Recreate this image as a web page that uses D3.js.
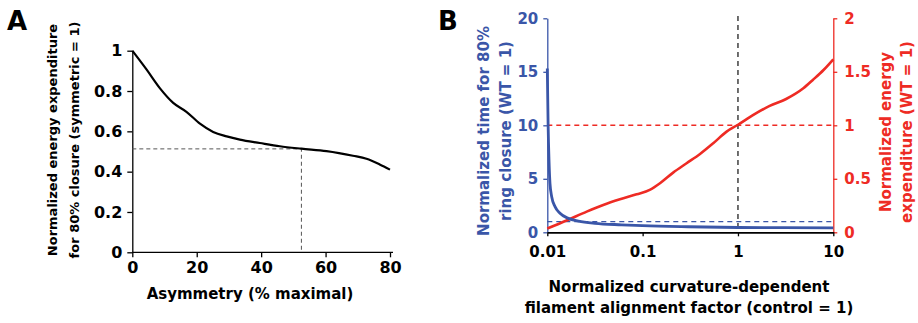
<!DOCTYPE html>
<html>
<head>
<meta charset="utf-8">
<script src="https://cdn.jsdelivr.net/npm/d3@7"></script>
<style>
  body { margin: 0; background: #fff; }
  svg text { font-family: "DejaVu Sans", sans-serif; font-weight: 700; }
</style>
</head>
<body>
<div id="chart"></div>
<script>
// panel A: energy vs asymmetry
const asymX = [0, 4.4, 8.6, 12.7, 16.8, 21, 25.1, 29.3, 33.4, 39.6, 45.8, 52.5, 60.3, 68.5, 72.7, 76.8, 80];
const asymEnergy = [1.0, 0.907, 0.813, 0.741, 0.697, 0.638, 0.597, 0.575, 0.559, 0.542, 0.526, 0.514, 0.502, 0.479, 0.464, 0.436, 0.41];
const asymMark = [52.5, 0.513];
const asymXTicks = [0, 20, 40, 60, 80];
const asymYTicks = [0, 0.2, 0.4, 0.6, 0.8, 1];

// panel B: time and energy vs alignment factor (log x)
const timeX = [0.01, 0.0102, 0.01042, 0.01067, 0.01112, 0.01205, 0.01359, 0.0166, 0.0212, 0.0316, 0.06, 0.1, 0.3, 1, 3, 10];
const timeY = [15.3, 10, 6.75, 4.58, 3.33, 2.4, 1.78, 1.3, 1.05, 0.84, 0.7, 0.62, 0.52, 0.45, 0.43, 0.42];
const energyX = [0.01, 0.0159, 0.0259, 0.0386, 0.0578, 0.0865, 0.1187, 0.152, 0.209, 0.289, 0.40, 0.55, 0.76, 1.0, 1.45, 2.15, 3.2, 4.85, 6.1, 7.9, 10];
const energyY = [0.035, 0.11, 0.193, 0.255, 0.308, 0.355, 0.396, 0.458, 0.558, 0.645, 0.732, 0.832, 0.941, 1.005, 1.097, 1.181, 1.246, 1.346, 1.424, 1.517, 1.617];
const alignTicks = [0.01, 0.1, 1, 10];
const timeTicks = [0, 5, 10, 15, 20];
const energyTicks = [0, 0.5, 1, 1.5, 2];

const blue = "#3a56a8", red = "#ee2b24";

const svg = d3.select("#chart").append("svg")
  .attr("width", 918).attr("height", 323);

function styleAxis(g, color, size) {
  g.select(".domain").attr("stroke", color).attr("stroke-width", 1.3);
  g.selectAll(".tick line").attr("stroke", color).attr("stroke-width", 1.3);
  g.selectAll(".tick text").attr("fill", color).style("font-size", size + "px");
}

// ---------- A ----------
const xA = d3.scaleLinear().domain([0, 80]).range([132.3, 390]);
const yA = d3.scaleLinear().domain([0, 1]).range([252.3, 50.7]);

svg.append("text").attr("x", 7).attr("y", 30).style("font-size", "26px").text("A");

svg.append("g").attr("transform", "translate(0,252.3)")
  .call(d3.axisBottom(xA).tickValues(asymXTicks).tickSize(5).tickPadding(4).tickSizeOuter(0))
  .call(g => styleAxis(g, "#000", 16))
  .call(g => g.select(".domain").attr("d", "M132.3,0H393"));

svg.append("g").attr("transform", "translate(132.3,0)")
  .call(d3.axisLeft(yA).tickValues(asymYTicks).tickSize(5).tickPadding(5).tickSizeOuter(0).tickFormat(d3.format("")))
  .call(g => styleAxis(g, "#000", 16));

svg.append("path")
  .attr("d", `M${xA(0)},${yA(asymMark[1])}H${xA(asymMark[0])}V${yA(0)}`)
  .attr("fill", "none").attr("stroke", "#555").attr("stroke-width", 1).attr("stroke-dasharray", "4,3");

svg.append("path").datum(d3.zip(asymX, asymEnergy))
  .attr("fill", "none").attr("stroke", "#000").attr("stroke-width", 2.2)
  .attr("d", d3.line().x(d => xA(d[0])).y(d => yA(d[1])).curve(d3.curveMonotoneX));

svg.append("text").attr("x", 250).attr("y", 299).attr("text-anchor", "middle")
  .style("font-size", "15px").text("Asymmetry (% maximal)");

const labA = svg.append("g").attr("transform", "translate(0,140) rotate(-90)");
labA.append("text").attr("x", 0).attr("y", 57).attr("text-anchor", "middle")
  .style("font-size", "13px").text("Normalized energy expenditure");
labA.append("text").attr("x", 0).attr("y", 79).attr("text-anchor", "middle")
  .style("font-size", "13px").text("for 80% closure (symmetric = 1)");

// ---------- B ----------
const xB = d3.scaleLog().domain([0.01, 10]).range([547.3, 833.3]);
const yL = d3.scaleLinear().domain([0, 20]).range([232.3, 18.3]);
const yR = d3.scaleLinear().domain([0, 2]).range([232.3, 18.3]);

svg.append("text").attr("x", 438).attr("y", 30).style("font-size", "26px").text("B");

svg.append("g").attr("transform", "translate(547.3,0)")
  .call(d3.axisLeft(yL).tickValues(timeTicks).tickSize(4).tickPadding(5).tickSizeOuter(0))
  .call(g => styleAxis(g, blue, 15));

svg.append("g").attr("transform", "translate(833.3,0)")
  .call(d3.axisRight(yR).tickValues(energyTicks).tickSize(4).tickPadding(7).tickSizeOuter(0).tickFormat(d3.format("")))
  .call(g => styleAxis(g, red, 15));

svg.append("g").attr("transform", "translate(0,232.3)")
  .call(d3.axisBottom(xB).tickValues(alignTicks).tickSize(4).tickPadding(10).tickSizeOuter(0).tickFormat(d3.format("")))
  .call(g => styleAxis(g, "#000", 15))
  .call(g => g.select(".domain").attr("stroke-width", 1.8));

// reference lines
svg.append("line").attr("x1", xB(0.01)).attr("x2", xB(10)).attr("y1", yR(1)).attr("y2", yR(1))
  .attr("stroke", red).attr("stroke-width", 1.4).attr("stroke-dasharray", "5,4");
svg.append("line").attr("x1", xB(0.01)).attr("x2", xB(10)).attr("y1", yL(1)).attr("y2", yL(1))
  .attr("stroke", blue).attr("stroke-width", 1.4).attr("stroke-dasharray", "5,4");
svg.append("line").attr("x1", xB(1)).attr("x2", xB(1)).attr("y1", 16).attr("y2", yL(0))
  .attr("stroke", "#222").attr("stroke-width", 1.3).attr("stroke-dasharray", "5,4");

svg.append("path").datum(d3.zip(energyX, energyY))
  .attr("fill", "none").attr("stroke", red).attr("stroke-width", 2.6)
  .attr("d", d3.line().x(d => xB(d[0])).y(d => yR(d[1])).curve(d3.curveMonotoneX));

svg.append("path").datum(d3.zip(timeX, timeY))
  .attr("fill", "none").attr("stroke", blue).attr("stroke-width", 2.8)
  .attr("d", d3.line().x(d => xB(d[0])).y(d => yL(d[1])).curve(d3.curveMonotoneX));

svg.append("text").attr("x", 689).attr("y", 292).attr("text-anchor", "middle")
  .style("font-size", "15px").text("Normalized curvature-dependent");
svg.append("text").attr("x", 689).attr("y", 313).attr("text-anchor", "middle")
  .style("font-size", "15px").text("filament alignment factor (control = 1)");

const labL = svg.append("g").attr("transform", "translate(0,131) rotate(-90)");
labL.append("text").attr("x", 0).attr("y", 489).attr("text-anchor", "middle").attr("fill", blue)
  .style("font-size", "15px").text("Normalized time for 80%");
labL.append("text").attr("x", 0).attr("y", 511).attr("text-anchor", "middle").attr("fill", blue)
  .style("font-size", "15px").text("ring closure (WT = 1)");

const labR = svg.append("g").attr("transform", "translate(0,132) rotate(-90)");
labR.append("text").attr("x", 0).attr("y", 891).attr("text-anchor", "middle").attr("fill", red)
  .style("font-size", "15px").text("Normalized energy");
labR.append("text").attr("x", 0).attr("y", 912).attr("text-anchor", "middle").attr("fill", red)
  .style("font-size", "15px").text("expenditure (WT = 1)");
</script>
</body>
</html>
